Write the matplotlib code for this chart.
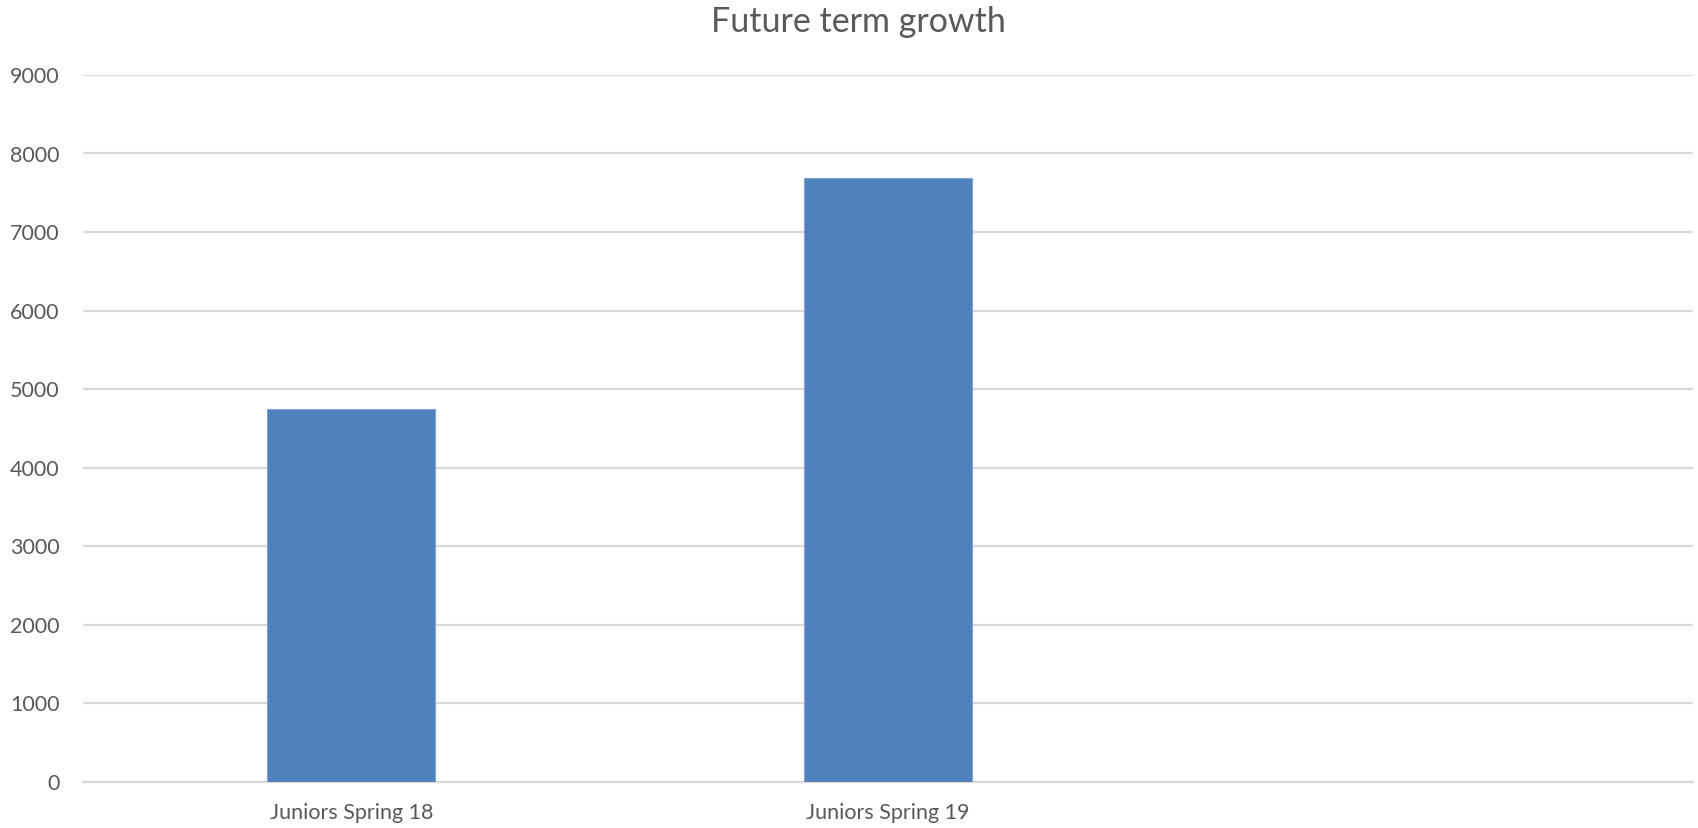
import matplotlib
matplotlib.use("Agg")
import matplotlib.pyplot as plt

categories = ["Juniors Spring 18", "Juniors Spring 19", ""]
values = [4745, 7690, None]
yticks = [0, 1000, 2000, 3000, 4000, 5000, 6000, 7000, 8000, 9000]
title = "Future term growth"

plt.rcParams['font.family'] = ['Lato', 'DejaVu Sans']
text_color = "#595959"
bar_color = "#4F81BD"
grid_color = "#D9D9D9"

fig = plt.figure(figsize=(16.98, 8.2805), dpi=100)
ax = fig.add_axes([83 / 1698, 1 - 781.7 / 828, (1693 - 83) / 1698, (781.7 - 75) / 828])

x = list(range(len(categories)))
xs = [xi for xi, v in zip(x, values) if v is not None]
vs = [v for v in values if v is not None]
ax.bar(xs, vs, width=0.3125, color=bar_color, edgecolor="#7FA3D3", linewidth=0.8, zorder=3)

ax.set_xlim(-0.5, len(categories) - 0.5)
ax.set_ylim(0, 9000)
ax.set_yticks(yticks)
ax.set_yticklabels([str(t) for t in yticks])
ax.set_xticks(x)
ax.set_xticklabels(categories)

ax.yaxis.grid(True, color=grid_color, linewidth=1.6, zorder=0)
ax.set_axisbelow(True)
for s in ["top", "right", "left"]:
    ax.spines[s].set_visible(False)
ax.spines["bottom"].set_color(grid_color)
ax.spines["bottom"].set_linewidth(1.6)
ax.tick_params(axis="both", length=0, colors=text_color, labelsize=15.5)
ax.tick_params(axis="y", pad=17)
ax.tick_params(axis="x", pad=15)

fig.text(858 / 1698, 1 - 22 / 828, title, ha="center", va="center",
         fontsize=24.5, color=text_color)

fig.savefig("out.png", dpi=100, facecolor="white")
